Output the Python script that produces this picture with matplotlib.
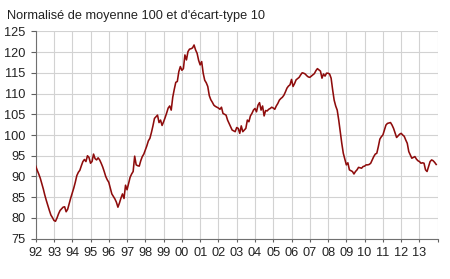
import matplotlib
matplotlib.use('Agg')
import matplotlib.pyplot as plt
import numpy as np

plt.rcParams['font.family'] = ['Liberation Sans', 'DejaVu Sans']

# monthly values, Jan 1992 .. Dec 2013
v1992 = [92.5, 91.5, 90.6, 89.6, 88.3, 87.0, 85.5, 84.2, 83.0, 81.8, 80.7, 80.1]
v1993 = [79.4, 79.2, 80.0, 81.0, 81.8, 82.2, 82.6, 82.7, 81.5, 82.1, 83.5, 84.8]
v1994 = [86.0, 87.2, 88.6, 90.2, 91.0, 91.5, 92.6, 93.6, 94.1, 93.6, 95.0, 94.6]
v1995 = [93.2, 93.6, 95.4, 94.3, 94.0, 94.5, 94.0, 93.2, 92.3, 91.2, 90.0, 89.2]
v1996 = [88.6, 87.2, 85.8, 85.2, 84.6, 83.8, 82.6, 83.6, 84.8, 85.8, 84.7, 87.9]
v1997 = [86.8, 88.3, 89.8, 90.6, 91.2, 94.9, 92.8, 92.6, 92.5, 93.8, 94.8, 95.4]
v1998 = [96.4, 97.4, 98.6, 99.2, 100.6, 102.2, 104.0, 104.4, 104.8, 103.0, 103.6, 102.3]
v1999 = [103.2, 104.2, 105.3, 106.5, 107.0, 106.0, 109.1, 111.0, 112.7, 112.9, 115.3, 116.5]
v2000 = [115.6, 116.0, 119.3, 118.1, 120.1, 120.7, 120.8, 121.0, 121.7, 120.5, 119.7, 118.0]
v2001 = [116.9, 117.7, 114.9, 113.2, 112.6, 111.7, 109.5, 108.5, 107.9, 107.2, 106.9, 106.7]
v2002 = [106.5, 106.2, 106.7, 105.2, 105.0, 104.8, 103.6, 102.8, 102.0, 101.2, 101.0, 100.8]
v2003 = [101.8, 101.6, 100.4, 102.2, 100.8, 101.2, 101.6, 103.6, 103.2, 104.6, 105.2, 106.0]
v2004 = [106.4, 105.6, 107.2, 107.8, 106.0, 107.0, 104.6, 105.9, 105.8, 106.2, 106.4, 106.7]
v2005 = [106.5, 106.2, 107.0, 107.6, 108.4, 108.8, 109.1, 109.6, 110.4, 111.3, 111.8, 112.1]
v2006 = [113.4, 111.7, 112.4, 113.3, 113.6, 113.9, 114.5, 115.0, 114.9, 114.7, 114.3, 114.0]
v2007 = [113.9, 114.2, 114.5, 114.8, 115.5, 116.0, 115.7, 115.4, 113.7, 114.7, 114.2, 114.9]
v2008 = [114.9, 114.7, 113.7, 110.9, 108.4, 107.0, 106.0, 103.6, 100.8, 98.0, 95.6, 94.2]
v2009 = [92.8, 93.3, 91.6, 91.4, 91.2, 90.6, 91.2, 91.6, 92.2, 92.1, 92.0, 92.4]
v2010 = [92.5, 92.8, 92.8, 92.9, 93.2, 94.0, 94.8, 95.4, 95.6, 97.2, 99.0, 99.6]
v2011 = [100.0, 101.2, 102.4, 102.8, 102.9, 103.0, 102.4, 101.6, 100.5, 99.4, 99.8, 100.2]
v2012 = [100.4, 100.0, 99.7, 98.8, 98.0, 96.0, 95.2, 94.4, 94.6, 94.8, 94.2, 93.8]
v2013 = [93.6, 93.2, 93.3, 93.2, 91.6, 91.2, 92.4, 93.6, 94.0, 93.8, 93.4, 92.9]

values = (v1992 + v1993 + v1994 + v1995 + v1996 + v1997 + v1998 + v1999 +
          v2000 + v2001 + v2002 + v2003 + v2004 + v2005 + v2006 + v2007 +
          v2008 + v2009 + v2010 + v2011 + v2012 + v2013)
years = list(range(1992, 2014))
year_labels = ['%02d' % (y % 100) for y in years]

t = 1992 + np.arange(len(values)) / 12.0

fig = plt.figure(figsize=(4.5, 2.79), dpi=100)
ax = fig.add_axes([0.0793, 0.1444, 0.8934, 0.7434])

ax.plot(t, values, color='#8e0c0c', lw=1.15, zorder=3)

ax.set_xlim(1992, 2014)
ax.set_ylim(75, 125)
ax.set_yticks(np.arange(75, 126, 5))
ax.set_xticks(years + [2014])
ax.set_xticklabels(year_labels + [''])

ax.grid(True, color='#d2d2d2', lw=0.8)
ax.set_axisbelow(True)
for s in ['top', 'right']:
    ax.spines[s].set_visible(False)
for s in ['left', 'bottom']:
    ax.spines[s].set_color('#707070')
    ax.spines[s].set_linewidth(0.8)
ax.tick_params(axis='both', colors='#606060', labelcolor='#222222',
               labelsize=9.2, width=0.8)
ax.tick_params(axis='y', length=3.8, pad=3.5)
ax.tick_params(axis='x', length=2.5, pad=3.5)

fig.text(0.016, 0.965, "Normalisé de moyenne 100 et d'écart-type 10",
         fontsize=9.2, color='#222222', va='top', ha='left')

fig.savefig('out.png', dpi=100)
